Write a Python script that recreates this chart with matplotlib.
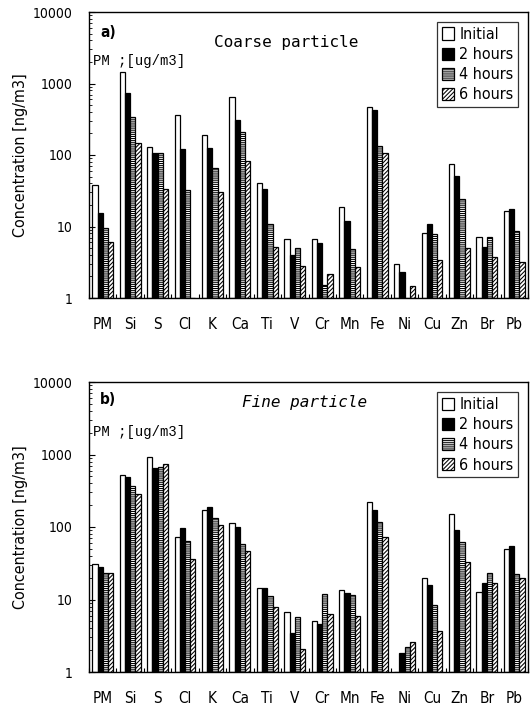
import numpy as np
import matplotlib
matplotlib.use("Agg")
import matplotlib.pyplot as plt
from matplotlib.patches import Patch
from matplotlib.ticker import FixedLocator, NullFormatter, LogLocator
from matplotlib.font_manager import FontProperties

nan = np.nan
elements = ['PM', 'Si', 'S', 'Cl', 'K', 'Ca', 'Ti', 'V', 'Cr', 'Mn', 'Fe', 'Ni', 'Cu', 'Zn', 'Br', 'Pb']
series_names = ['Initial', '2 hours', '4 hours', '6 hours']

coarse_initial = [38, 1460, 131, 363, 190, 653, 41, 6.7, 6.7, 18.5, 465, 3.0, 8.2, 76, 7.1, 16.6]
coarse_2h = [15.5, 727, 108, 121, 124, 309, 33, 4.0, 5.8, 12, 426, 2.3, 11, 51, 5.2, 17.4]
coarse_4h = [9.5, 345, 106, 32, 65, 210, 11, 5.0, 1.5, 4.8, 133, nan, 7.8, 24, 7.1, 8.7]
coarse_6h = [6.0, 145, 33, nan, 30, 82, 5.2, 2.8, 2.2, 2.75, 106, 1.45, 3.4, 5.0, 3.8, 3.15]

fine_initial = [30.5, 526, 922, 72, 174, 112, 14.6, 6.7, 5.1, 13.5, 222, nan, 20, 151, 12.7, 50.5]
fine_2h = [28.5, 484, 649, 97, 187, 99, 14.6, 3.5, 4.6, 12.1, 174, 1.8, 15.7, 90, 17, 54.5]
fine_4h = [23.5, 372, 672, 64, 131, 59, 11, 5.65, 11.8, 11.4, 117, 2.2, 8.3, 63, 23, 22.8]
fine_6h = [23.5, 288, 740, 36, 105, 47, 8.0, 2.07, 6.4, 6.0, 73, 2.56, 3.7, 33, 17, 19.5]

ytick_vals = [1, 10, 100, 1000, 10000]
ytick_labels = ['1', '10', '100', '1000', '10000']

styles = [dict(facecolor='white', hatch=None),
          dict(facecolor='black', hatch=None),
          dict(facecolor='white', hatch='--------'),
          dict(facecolor='white', hatch='////////')]

plt.rcParams['hatch.linewidth'] = 0.75


def fp(size, **kw):
    return FontProperties(family='DejaVu Sans', stretch='condensed', size=size, **kw)


fig = plt.figure(figsize=(5.32, 7.06), dpi=100)
W, H = 532, 706


def add_axes(top_px, bottom_px):
    left, right = 89, 528
    return fig.add_axes([left / W, 1 - bottom_px / H, (right - left) / W, (bottom_px - top_px) / H])


ax1 = add_axes(12, 298)
ax2 = add_axes(382, 672)


def draw(ax, data, tag, tag_y, title, title_x, title_y, italic):
    x = np.arange(len(elements))
    bw = 0.19
    for i, (vals, st) in enumerate(zip(data, styles)):
        v = np.array(vals, dtype=float)
        h = np.where(np.isnan(v), 0, v - 1)
        ax.bar(x + (i - 1.5) * bw, h, bw, bottom=1, facecolor=st['facecolor'],
               edgecolor='black', linewidth=0.9, hatch=st['hatch'])
    ax.set_yscale('log')
    ax.set_ylim(1, 10000)
    ax.set_xlim(-0.5, len(elements) - 0.5)
    ax.yaxis.set_major_locator(FixedLocator(ytick_vals))
    ax.set_yticklabels(ytick_labels, fontproperties=fp(10))
    ax.yaxis.set_minor_locator(LogLocator(base=10, subs=np.arange(2, 10)))
    ax.yaxis.set_minor_formatter(NullFormatter())
    ax.set_xticks(x)
    ax.set_xticklabels(elements, fontproperties=fp(11))
    ax.set_xticks(np.arange(len(elements) + 1) - 0.5, minor=True)
    ax.tick_params(axis='x', which='major', length=0, pad=14)
    ax.tick_params(axis='x', which='minor', direction='in', length=3, width=0.8)
    ax.tick_params(axis='y', which='major', direction='in', length=4, width=0.8, pad=12)
    ax.tick_params(axis='y', which='minor', direction='in', length=2, width=0.6)
    for s in ax.spines.values():
        s.set_linewidth(1.0)
    ax.set_ylabel('Concentration [ng/m3]', fontproperties=fp(11.5), labelpad=3)
    ax.text(0.025, tag_y, tag, transform=ax.transAxes, fontproperties=fp(11, weight='bold'),
            ha='left', va='center')
    ax.text(title_x, title_y, title, transform=ax.transAxes,
            family='DejaVu Sans Mono', fontsize=11.5, style='italic' if italic else 'normal',
            ha='center', va='center')
    ax.text(0.008, 0.827, 'PM ;[ug/m3]', transform=ax.transAxes, fontsize=10,
            family=['Liberation Mono', 'DejaVu Sans Mono'], ha='left', va='center')
    handles = [Patch(facecolor=st['facecolor'], edgecolor='black', hatch=st['hatch'], linewidth=0.9)
               for st in styles]
    leg = ax.legend(handles, series_names, loc='upper right', bbox_to_anchor=(0.985, 0.975),
                    prop=fp(11.5),
                    frameon=True, fancybox=False, edgecolor='black',
                    handlelength=0.8, handleheight=0.8, handletextpad=0.3,
                    borderpad=0.3, labelspacing=0.32, borderaxespad=0.2)
    leg.get_frame().set_linewidth(0.9)


draw(ax1, [coarse_initial, coarse_2h, coarse_4h, coarse_6h], 'a)', 0.927,
     'Coarse particle', 0.45, 0.895, False)
draw(ax2, [fine_initial, fine_2h, fine_4h, fine_6h], 'b)', 0.938,
     'Fine particle', 0.49, 0.928, True)

fig.savefig('out.png', dpi=100)
